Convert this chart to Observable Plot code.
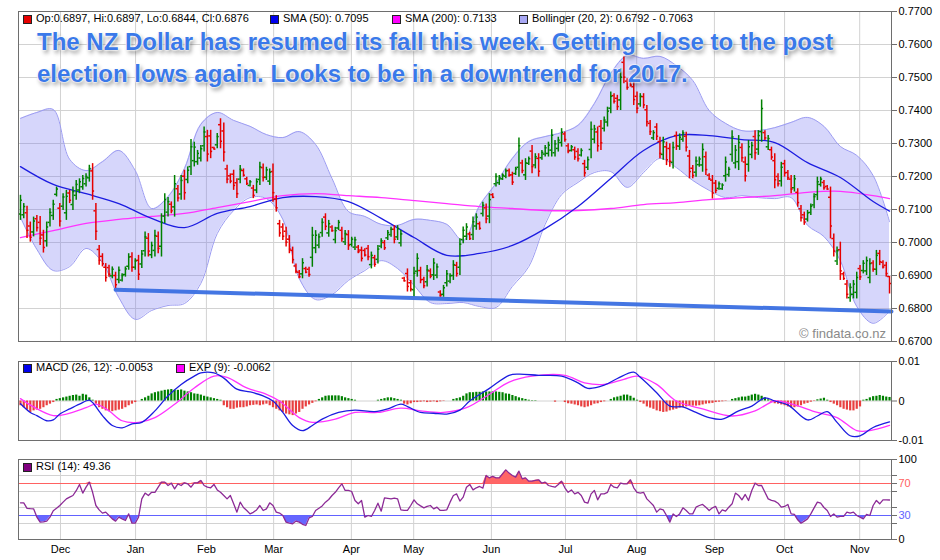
<!DOCTYPE html>
<html><head><meta charset="utf-8">
<script src="https://cdn.jsdelivr.net/npm/d3@7"></script>
<script src="https://cdn.jsdelivr.net/npm/@observablehq/plot@0.6"></script>
<style>
body{margin:0;background:#fff;}
#wrap{position:relative;width:940px;height:560px;overflow:hidden;font-family:"Liberation Sans",Arial,sans-serif;}
.panel{position:absolute;left:0;}
.leg{position:absolute;font-size:11px;color:#000;white-space:nowrap;line-height:13px;}
.sq{position:absolute;width:7px;height:7px;border:1px solid #222;}
.title{position:absolute;left:37px;top:26px;font:bold 24px "Liberation Sans",Arial,sans-serif;line-height:32px;color:#3a79e9;white-space:nowrap;
text-shadow:0 0 2px #fff,0 0 2px #fff,0 0 2px #fff,2px 3px 4px rgba(0,0,0,.45);}
.wm{position:absolute;right:54px;top:326px;font:13px "Liberation Sans",Arial,sans-serif;color:#8a8a8a;}
</style></head>
<body><div id="wrap"></div>
<script>
// ---------- DATA ----------
const monthNames = ["Dec","Jan","Feb","Mar","Apr","May","Jun","Jul","Aug","Sep","Oct","Nov"];
const monthIdx = [12.2,35.1,56.7,77.2,100.9,119.9,143.6,166.2,187.9,211.6,233,255.9];
const priceTicks = [.67,.68,.69,.70,.71,.72,.73,.74,.75,.76,.77];
const macdTicks = [-0.01,0,0.01];

const high = [
.7143,.7118,.7110,.7062,.7077,.7082,.7079,.7037,.7062,.7102,
.7128,.7168,.7118,.7148,.7158,.7158,.7168,.7188,.7193,.7203,
.7208,.7234,.7239,.7118,.6991,.6966,.6936,.6931,.6926,.6910,
.6926,.6905,.6926,.6966,.6969,.6951,.6961,.6976,.7032,.7027,
.7001,.7037,.7032,.7087,.7148,.7136,.7123,.7203,.7173,.7203,
.7219,.7229,.7312,.7304,.7279,.7294,.7350,.7340,.7340,.7289,
.7330,.7375,.7362,.7234,.7208,.7219,.7193,.7233,.7223,.7198,
.7188,.7173,.7193,.7243,.7238,.7228,.7223,.7238,.7142,.7067,
.7057,.7046,.7021,.6986,.6935,.6915,.6951,.6925,.6925,.7046,
.7036,.7026,.7072,.7087,.7067,.7051,.7046,.7067,.7046,.7036,
.7036,.7016,.7016,.6991,.6986,.6981,.6991,.6971,.6961,.6991,
.7011,.7006,.7036,.7046,.7051,.7051,.7036,.6895,.6920,.6885,
.6925,.6966,.6925,.6895,.6930,.6920,.6951,.6935,.6854,.6870,
.6915,.6905,.6945,.6940,.7011,.7047,.7057,.7031,.7077,.7087,
.7062,.7122,.7117,.7148,.7148,.7208,.7203,.7208,.7223,.7223,
.7213,.7228,.7317,.7249,.7254,.7259,.7294,.7269,.7269,.7279,
.7294,.7304,.7342,.7309,.7319,.7345,.7335,.7299,.7294,.7289,
.7284,.7284,.7249,.7259,.7365,.7355,.7350,.7370,.7380,.7410,
.7456,.7451,.7446,.7526,.7562,.7496,.7496,.7486,.7456,.7451,
.7451,.7415,.7370,.7339,.7360,.7319,.7319,.7304,.7299,.7304,
.7335,.7329,.7339,.7334,.7279,.7233,.7259,.7259,.7299,.7274,
.7208,.7203,.7188,.7183,.7178,.7259,.7228,.7339,.7294,.7324,
.7299,.7259,.7309,.7304,.7339,.7339,.7432,.7339,.7324,.7289,
.7269,.7208,.7243,.7249,.7218,.7203,.7203,.7163,.7112,.7092,
.7097,.7117,.7148,.7198,.7198,.7188,.7173,.7168,.7026,.6986,
.7001,.6910,.6885,.6875,.6885,.6910,.6930,.6945,.6956,.6951,
.6945,.6976,.6976,.6945,.6940,.6897];
const low = [
.7067,.7072,.7012,.7001,.7017,.7032,.6991,.6968,.6986,.7047,
.7067,.7138,.7047,.7097,.7067,.7118,.7097,.7128,.7148,.7158,
.7168,.7183,.7128,.7006,.6931,.6926,.6880,.6895,.6890,.6860,
.6875,.6880,.6895,.6916,.6910,.6916,.6885,.6921,.6956,.6956,
.6951,.6956,.6966,.6956,.7057,.7077,.7087,.7077,.7123,.7128,
.7128,.7178,.7203,.7229,.7234,.7244,.7274,.7244,.7254,.7281,
.7284,.7284,.7244,.7178,.7178,.7158,.7133,.7178,.7198,.7173,
.7168,.7133,.7148,.7173,.7183,.7188,.7173,.7122,.7092,.7016,
.7006,.6986,.6966,.6935,.6905,.6890,.6890,.6905,.6895,.6925,
.6966,.6981,.7016,.7036,.7016,.7031,.6996,.7036,.7001,.6991,
.6976,.6986,.6976,.6966,.6941,.6956,.6945,.6920,.6925,.6935,
.6981,.6976,.7006,.7016,.6996,.7006,.6986,.6880,.6850,.6850,
.6834,.6895,.6875,.6860,.6865,.6890,.6885,.6890,.6834,.6834,
.6865,.6875,.6885,.6895,.6900,.6996,.7006,.7006,.7006,.7037,
.7037,.7077,.7057,.7057,.7133,.7168,.7173,.7188,.7193,.7198,
.7173,.7203,.7198,.7208,.7188,.7233,.7208,.7223,.7198,.7249,
.7259,.7259,.7259,.7259,.7274,.7289,.7304,.7269,.7274,.7249,
.7244,.7259,.7198,.7218,.7254,.7299,.7274,.7279,.7335,.7350,
.7390,.7420,.7400,.7400,.7481,.7461,.7471,.7415,.7390,.7410,
.7405,.7350,.7324,.7309,.7309,.7254,.7249,.7233,.7228,.7223,
.7279,.7279,.7304,.7274,.7193,.7193,.7198,.7228,.7213,.7203,
.7188,.7132,.7148,.7158,.7158,.7183,.7198,.7243,.7223,.7218,
.7243,.7183,.7213,.7254,.7249,.7264,.7304,.7309,.7279,.7249,
.7163,.7168,.7168,.7198,.7188,.7148,.7153,.7107,.7062,.7052,
.7062,.7082,.7102,.7127,.7168,.7158,.7158,.7011,.6956,.6930,
.6885,.6885,.6829,.6819,.6829,.6829,.6885,.6905,.6900,.6875,
.6910,.6900,.6930,.6920,.6895,.6844];
const open = [
.7086,.7084,.7090,.7050,.7032,.7072,.7061,.7023,.7005,.7061,
.7082,.7146,.7104,.7110,.7090,.7150,.7115,.7143,.7159,.7169,
.7178,.7196,.7217,.7096,.6979,.6958,.6925,.6924,.6899,.6900,
.6888,.6886,.6903,.6928,.6957,.6925,.6946,.6935,.6975,.7013,
.6963,.6976,.7019,.6989,.7080,.7092,.7116,.7108,.7163,.7147,
.7201,.7191,.7230,.7248,.7245,.7256,.7293,.7321,.7323,.7288,
.7296,.7357,.7338,.7223,.7202,.7207,.7181,.7192,.7218,.7193,
.7173,.7165,.7159,.7191,.7227,.7198,.7186,.7215,.7132,.7057,
.7047,.7034,.7010,.6976,.6929,.6910,.6905,.6921,.6919,.6955,
.6984,.6992,.7030,.7077,.7029,.7047,.7009,.7044,.7037,.7002,
.7024,.6994,.6986,.6986,.6977,.6976,.6982,.6933,.6954,.6949,
.6989,.7000,.7014,.7024,.7040,.7017,.6999,.6892,.6906,.6878,
.6857,.6913,.6915,.6888,.6881,.6914,.6902,.6901,.6850,.6843,
.6878,.6883,.6900,.6931,.6925,.7009,.7019,.7026,.7024,.7050,
.7057,.7088,.7105,.7080,.7145,.7178,.7181,.7193,.7201,.7218,
.7205,.7209,.7228,.7241,.7205,.7240,.7277,.7235,.7255,.7257,
.7268,.7270,.7280,.7272,.7285,.7303,.7329,.7293,.7279,.7281,
.7276,.7265,.7239,.7228,.7282,.7313,.7335,.7352,.7346,.7365,
.7407,.7445,.7437,.7432,.7546,.7489,.7491,.7472,.7443,.7420,
.7442,.7402,.7361,.7317,.7350,.7306,.7267,.7290,.7285,.7243,
.7324,.7292,.7313,.7322,.7262,.7225,.7213,.7236,.7235,.7260,
.7204,.7189,.7180,.7164,.7163,.7202,.7206,.7267,.7241,.7245,
.7288,.7244,.7237,.7267,.7321,.7283,.7336,.7333,.7290,.7281,
.7248,.7200,.7187,.7239,.7212,.7192,.7166,.7152,.7102,.7084,
.7071,.7091,.7114,.7145,.7176,.7182,.7170,.7137,.7012,.6944,
.6978,.6905,.6874,.6833,.6843,.6849,.6921,.6915,.6914,.6894,
.6938,.6919,.6967,.6940,.6931,.6897];
const close = [
.7128,.7109,.7037,.7016,.7065,.7045,.7013,.6985,.7047,.7091,
.7116,.7162,.7065,.7138,.7140,.7128,.7154,.7176,.7184,.7194,
.7200,.7224,.7156,.7034,.6946,.6936,.6894,.6904,.6919,.6872,
.6916,.6900,.6920,.6956,.6925,.6944,.6904,.6965,.7017,.6974,
.6991,.7021,.6982,.7061,.7130,.7124,.7096,.7178,.7135,.7188,
.7151,.7219,.7290,.7289,.7270,.7284,.7335,.7268,.7276,.7283,
.7321,.7307,.7274,.7192,.7186,.7173,.7148,.7222,.7204,.7179,
.7184,.7143,.7184,.7229,.7197,.7220,.7213,.7151,.7105,.7029,
.7019,.7001,.6980,.6948,.6913,.6896,.6939,.6910,.6903,.7022,
.7022,.7017,.7061,.7049,.7057,.7036,.7036,.7061,.7012,.7027,
.6991,.7010,.7008,.6972,.6952,.6962,.6957,.6961,.6934,.6980,
.7005,.6984,.7030,.7040,.7010,.7042,.7026,.6884,.6867,.6859,
.6907,.6952,.6887,.6869,.6917,.6898,.6938,.6926,.6839,.6863,
.6905,.6899,.6933,.6906,.6995,.7037,.7047,.7012,.7063,.7077,
.7043,.7113,.7072,.7130,.7137,.7200,.7197,.7204,.7217,.7204,
.7183,.7223,.7293,.7218,.7241,.7254,.7230,.7260,.7216,.7273,
.7287,.7295,.7325,.7299,.7310,.7334,.7312,.7277,.7290,.7259,
.7254,.7279,.7211,.7251,.7343,.7344,.7293,.7302,.7371,.7398,
.7443,.7428,.7412,.7501,.7501,.7470,.7477,.7433,.7407,.7443,
.7417,.7366,.7336,.7333,.7322,.7270,.7305,.7251,.7246,.7288,
.7293,.7319,.7332,.7289,.7215,.7203,.7247,.7253,.7282,.7221,
.7193,.7150,.7158,.7178,.7174,.7244,.7222,.7320,.7280,.7303,
.7257,.7202,.7290,.7294,.7272,.7324,.7406,.7317,.7315,.7259,
.7190,.7178,.7228,.7211,.7196,.7162,.7193,.7121,.7075,.7062,
.7090,.7110,.7139,.7184,.7192,.7166,.7162,.7050,.6974,.6975,
.6914,.6891,.6843,.6864,.6874,.6894,.6896,.6937,.6945,.6936,
.6919,.6961,.6942,.6926,.6906,.6876];

// moving averages (bar index -> value)
const smaIdx = [0,10,20,30,40,50,60,70,80,90,100,110,120,130,140,150,160,170,180,190,200,210,220,230,240,250,260,265];
const sma50 = [.7230,.7176,.7148,.7118,.7073,.7045,.7088,.7109,.7136,.7139,.7124,.7073,.7015,.6961,.6967,.6991,.7042,.7109,.7194,.7279,.7324,.7324,.7312,.7303,.7242,.7197,.7124,.7095];
const sma200 = [.7015,.7036,.7058,.7070,.7079,.7088,.7106,.7124,.7142,.7148,.7142,.7136,.7127,.7118,.7109,.7103,.7097,.7097,.7103,.7115,.7121,.7130,.7136,.7142,.7152,.7155,.7142,.7133];

// Bollinger (20, 2)
const bbIdx = [0,5,10,15,20,25,30,35,40,45,50,55,60,65,70,75,80,85,90,95,100,105,110,115,120,125,130,135,140,145,150,155,160,165,170,175,180,185,190,195,200,205,210,215,220,225,230,235,240,245,250,255,260,265];
const bbUpper = [.7376,.7394,.7403,.7252,.7218,.7245,.7279,.7218,.7103,.7139,.7224,.7358,.7394,.7370,.7352,.7327,.7318,.7336,.7297,.7194,.7094,.7079,.7055,.7052,.7070,.7067,.7055,.7006,.7112,.7179,.7255,.7306,.7321,.7333,.7355,.7421,.7512,.7567,.7558,.7564,.7536,.7491,.7400,.7361,.7339,.7339,.7348,.7364,.7379,.7352,.7291,.7264,.7203,.7063];
const bbLower = [.7076,.6979,.6915,.6927,.6982,.6939,.6833,.6767,.6794,.6809,.6815,.6876,.7027,.7097,.7136,.7133,.7070,.6891,.6827,.6842,.6885,.6915,.6945,.6921,.6870,.6818,.6815,.6818,.6806,.6803,.6867,.6927,.7055,.7145,.7182,.7212,.7215,.7167,.7212,.7255,.7227,.7188,.7158,.7136,.7142,.7136,.7133,.7136,.7052,.7018,.6945,.6806,.6755,.6792];

// hand-drawn support line
const trendIdx = [29, 265.6];
const trendVal = [.6857, .6791];

// MACD (26,12) and EXP (9)
const macdIdx = [0,3,5,8,10,12,15,18,21,22,25,28,31,34,37,41,45,49,53,55,59,62,66,70,74,77,80,83,86,89,92,97,102,108,112,116,118,122,126,130,134,137,143,149,152,158,165,170,173,178,182,187,189,194,198,202,206,210,214,219,223,227,230,234,240,243,246,249,253,256,260,265];
const macdVal = [-.0007,-.0029,-.0037,-.0050,-.0048,-.0033,-.0020,-.0008,.0002,-.0004,-.0037,-.0062,-.0068,-.0058,-.0054,-.0025,.0013,.0042,.0063,.0071,.0071,.0058,.0030,.0023,.0013,0,-.0029,-.0062,-.0075,-.0062,-.0046,-.0029,-.0023,-.0027,-.0020,-.0008,-.0014,-.0029,-.0031,-.0033,-.0023,0,.0032,.0065,.0068,.0065,.0063,.0046,.0032,.0040,.0057,.0073,.0060,.0021,-.0013,-.0015,-.0029,-.0042,-.0046,-.0025,-.0013,.0008,0,-.0010,-.0048,-.0038,-.0027,-.0054,-.0088,-.0088,-.0067,-.0053];
const sigIdx = [0,4,10,14,20,23,27,31,36,41,47,53,59,63,69,75,79,85,89,96,102,109,116,122,129,136,143,149,156,166,172,178,184,188,194,200,208,217,224,230,235,243,249,255,259,265];
const sigVal = [.0006,-.0015,-.0037,-.0033,-.0017,-.0008,-.0025,-.0050,-.0054,-.0042,-.0008,.0033,.0063,.0060,.0033,.0017,0,-.0042,-.0054,-.0046,-.0029,-.0029,-.0018,-.0025,-.0029,-.0017,.0017,.0048,.0063,.0065,.0046,.0042,.0055,.0063,.0042,0,-.0020,-.0038,-.0025,0,-.0007,-.0029,-.0042,-.0075,-.0075,-.0062];
// histogram, one per bar, in pips (0.0001)
const histPips = [
-12,-17,-23,-29,-25,-23,-21,-17,-12,-8,-4,
4,6,8,10,12,14,15,12,17,15,8,2,
-8,-17,-21,-25,-27,-27,-25,-23,-21,-17,-12,-8,-4,
0,
4,8,12,18,21,23,25,27,28,29,27,27,28,25,23,21,18,17,15,12,10,8,6,4,2,
-12,-17,-21,-21,-18,-17,-17,-15,-12,-11,-10,-12,-10,-8,-12,-17,-21,-25,-29,-33,-35,-37,-33,-29,-21,-15,-10,-6,-2,
4,8,12,13,13,13,13,11,8,6,4,2,
0,0,0,0,0,0,
2,4,6,8,8,6,4,2,
-8,-10,-7,-4,-4,-3,-2,-4,-3,-2,-4,-2,-1,0,
0,
4,6,8,12,18,
21,21,22,22,23,23,23,23,23,22,21,18,17,14,11,8,6,4,2,
1,1,0,0,0,0,0,-3,0,0,
-4,-7,-8,-10,-12,-15,-17,-15,-12,-8,-7,-4,-2,0,
4,8,10,12,15,15,12,7,2,
-4,-8,-15,-18,-21,-25,-27,-29,-28,-25,-23,-21,-18,-17,-15,-13,-13,-13,-12,-10,-8,-7,-6,-4,-3,-2,-1,0,
4,6,8,10,10,12,15,17,15,12,8,3,
-4,-7,-8,-10,-12,-15,-17,-17,-15,-12,-8,-6,-3,-1,
3,5,7,2,
-4,-8,-12,-17,-21,-23,-25,-25,-21,-15,
2,4,8,11,12,14,12,10,9];

// RSI (14), one per bar
const rsi = [
45.8,45.8,39,38.5,38.3,28,21.7,22,23,28,
36,39,42.5,46.7,50.8,53,55,61,68.8,58,
65.4,71.7,59,42.5,37,33,34.2,30,25.8,23,
28,25.8,23.8,32,20.4,20.4,28,50.8,58,55,
59,59,65.4,71.7,71.7,67.5,70.4,63.3,69.6,67.5,
70.8,69.6,65.4,70.8,70.8,73.8,67.5,65.4,64.6,68.8,
62,59,55,50.8,55,44.6,34.2,46.7,40,36.3,
32,34,37,42.5,36.3,38.3,45.8,42.5,34.2,33,
30,21.7,20.5,19.6,23,21.7,19,17.5,27,28.8,
36.3,39,42,46.7,50,55,59,64.6,69.6,61.3,
61.3,60,48.8,44.6,48.8,28,30,28.8,36.3,45.4,
35.4,52,51.5,50.8,51.7,50.8,37.1,36.5,36.3,42.5,
49.6,44.6,42,39.6,41.3,42.5,38.3,40.4,36.3,36.5,
37.1,46.7,55,57,48,53,65.4,68.8,62,64.6,
66.3,64.2,80,77,78.8,77,77,82,87,83,
80,77.9,85.4,75.8,77,72.9,72.9,74,74.6,70.4,
71.7,67.5,66.3,65.4,68.8,72.9,64.6,59,62,57,
59,55,46.7,45.4,57,61.3,49.6,57,57,59,
68.8,65.4,64.6,70.4,69.6,69.6,74.6,64.6,59,58,
59,50.8,46.7,42.5,34.2,38.3,37.1,30,21.7,32,
28.8,32,39.6,36.3,32,32,40.4,42.5,43.8,40.4,
36.3,39.6,41.3,32,37.1,35.4,40.4,44.6,58,55,
49.6,56.3,48.8,61.3,70.4,67.5,67.5,59,50.8,49,
48,45.4,40.4,41.3,43.8,32,31.3,24.6,20.4,23,
25.8,32,39.6,46.7,45.4,40,36.3,28.8,32,28,
28.8,28.8,34.2,33,34.2,30,28,25.8,31.3,30,
42.5,48.8,44.6,49.6,49.6,49.36];

// ---------- BUILD ----------
const W = 940, ML = 18, MR = 49;
const xDom = [-0.6, 265.6];
const grid = "#d2d2d2", frameCol = "#6e6e6e";
const style = {fontFamily: '"Liberation Sans",Arial,sans-serif', fontSize: "11px", background: "transparent", overflow: "visible"};

const bars = close.map((c, i) => ({i, o: open[i], h: high[i], l: low[i], c}));
const barCol = d => d.c >= d.o ? "#008000" : "#e60000";
const bb = bbIdx.map((i, k) => ({i, hi: bbUpper[k], lo: bbLower[k]}));
const sma = smaIdx.map((i, k) => ({i, s50: sma50[k], s200: sma200[k]}));
const trend = trendIdx.map((i, k) => ({i, v: trendVal[k]}));
const macdRows = macdIdx.map((i, k) => ({i, v: macdVal[k]}));
const sigRows = sigIdx.map((i, k) => ({i, v: sigVal[k]}));
const hist = histPips.map((p, i) => ({i, v: p / 10000}));
const rsiRows = rsi.map((v, i) => ({i, v}));

const mainPlot = Plot.plot({
  width: W, height: 350, marginLeft: ML, marginRight: MR, marginTop: 11, marginBottom: 9,
  style,
  x: {domain: xDom, axis: null},
  y: {domain: [0.67, 0.77], axis: null},
  marks: [
    Plot.ruleY(priceTicks, {stroke: grid}),
    Plot.ruleX(monthIdx, {stroke: grid}),
    Plot.areaY(bb, {x: "i", y1: "lo", y2: "hi", fill: "rgb(118,118,242)", fillOpacity: 0.3, curve: "catmull-rom"}),
    Plot.line(bb, {x: "i", y: "hi", stroke: "#9c9cf2", strokeWidth: 1, curve: "catmull-rom"}),
    Plot.line(bb, {x: "i", y: "lo", stroke: "#9c9cf2", strokeWidth: 1, curve: "catmull-rom"}),
    Plot.line(sma, {x: "i", y: "s200", stroke: "#ff33ff", strokeWidth: 1.3, curve: "catmull-rom"}),
    Plot.line(sma, {x: "i", y: "s50", stroke: "#1c1ce0", strokeWidth: 1.3, curve: "catmull-rom"}),
    Plot.ruleX(bars, {x: "i", y1: "l", y2: "h", stroke: barCol, strokeWidth: 1.5}),
    Plot.ruleY(bars, {y: "o", x1: d => d.i - 0.6, x2: "i", stroke: barCol, strokeWidth: 1.5}),
    Plot.ruleY(bars, {y: "c", x1: "i", x2: d => d.i + 0.6, stroke: barCol, strokeWidth: 1.5}),
    Plot.line(trend, {x: "i", y: "v", stroke: "#3a6fe2", strokeWidth: 4, strokeOpacity: 0.95}),
    Plot.frame({stroke: frameCol}),
    Plot.axisY(priceTicks, {anchor: "right", label: null, tickSize: 5, tickPadding: 2, tickFormat: d => d.toFixed(4), stroke: frameCol, fill: "#000"})
  ]
});

const macdPlot = Plot.plot({
  width: W, height: 95, marginLeft: ML, marginRight: MR, marginTop: 11, marginBottom: 5,
  style,
  x: {domain: xDom, axis: null},
  y: {domain: [-0.01, 0.01], axis: null},
  marks: [
    Plot.ruleX(monthIdx, {stroke: grid}),
    Plot.ruleY([0], {stroke: grid}),
    Plot.ruleX(hist, {x: "i", y1: 0, y2: "v", stroke: d => d.v >= 0 ? "#008000" : "#e84040", strokeWidth: 2.2}),
    Plot.line(sigRows, {x: "i", y: "v", stroke: "#ff33ff", strokeWidth: 1.3, curve: "catmull-rom"}),
    Plot.line(macdRows, {x: "i", y: "v", stroke: "#1c1ce0", strokeWidth: 1.3, curve: "catmull-rom"}),
    Plot.frame({stroke: frameCol}),
    Plot.axisY(macdTicks, {anchor: "right", label: null, tickSize: 5, tickPadding: 2, tickFormat: d => d === 0 ? "0" : String(d), stroke: frameCol, fill: "#000"})
  ]
});

const rsiPlot = Plot.plot({
  width: W, height: 110, marginLeft: ML, marginRight: MR, marginTop: 9, marginBottom: 21,
  style,
  x: {domain: xDom, axis: null},
  y: {domain: [0, 100], axis: null},
  marks: [
    Plot.ruleX(monthIdx, {stroke: grid}),
    Plot.ruleY([20, 40, 60, 80], {stroke: grid}),
    Plot.areaY(rsiRows, {x: "i", y1: 70, y2: d => Math.max(d.v, 70), fill: "#ff6666"}),
    Plot.areaY(rsiRows, {x: "i", y1: 30, y2: d => Math.min(d.v, 30), fill: "#6666ff"}),
    Plot.ruleY([70], {stroke: "#ff6262"}),
    Plot.ruleY([30], {stroke: "#6262ff"}),
    Plot.line(rsiRows, {x: "i", y: "v", stroke: "#8c2a96", strokeWidth: 1.3}),
    Plot.frame({stroke: frameCol}),
    Plot.axisY([0, 20, 30, 40, 60, 70, 80, 100], {anchor: "right", label: null, tickSize: 5, tickFormat: () => "", stroke: frameCol}),
    Plot.axisY([0, 100], {anchor: "right", label: null, tickSize: 5, tickPadding: 2, stroke: frameCol, fill: "#000"}),
    Plot.axisY([70], {anchor: "right", label: null, tickSize: 0, tickPadding: 7, fill: "#ff6262"}),
    Plot.axisY([30], {anchor: "right", label: null, tickSize: 0, tickPadding: 7, fill: "#6262ff"}),
    Plot.axisX(monthIdx, {anchor: "bottom", label: null, tickSize: 0, tickPadding: 6, tickFormat: d => monthNames[monthIdx.indexOf(d)], fill: "#000"})
  ]
});

const wrap = document.getElementById("wrap");
[[mainPlot, 0], [macdPlot, 350], [rsiPlot, 450]].forEach(([svg, top]) => {
  svg.classList.add("panel");
  svg.style.top = top + "px";
  wrap.appendChild(svg);
});

// legends & annotations
const n = close.length - 1;
const f4 = v => v.toFixed(4);
const legends = [
  {x: 23, y: 12, col: "#e60000", txt: `Op:${f4(open[n])}, Hi:${f4(high[n])}, Lo:${f4(low[n])}, Cl:${f4(close[n])}`},
  {x: 270, y: 12, col: "#0000ee", txt: `SMA (50): ${f4(sma50[sma50.length - 1])}`},
  {x: 392, y: 12, col: "#ff00ff", txt: `SMA (200): ${f4(sma200[sma200.length - 1])}`},
  {x: 519, y: 12, col: "#a8a8f4", txt: `Bollinger (20, 2): ${f4(bbLower[bbLower.length - 1])} - ${f4(bbUpper[bbUpper.length - 1])}`},
  {x: 23, y: 361, col: "#0000ee", txt: `MACD (26, 12): ${f4(macdVal[macdVal.length - 1])}`},
  {x: 176, y: 361, col: "#ff00ff", txt: `EXP (9): ${f4(sigVal[sigVal.length - 1])}`},
  {x: 23, y: 460, col: "#800080", txt: `RSI (14): ${rsi[n].toFixed(2)}`}
];
legends.forEach(l => {
  const s = document.createElement("div");
  s.className = "sq"; s.style.left = l.x + "px"; s.style.top = (l.y + 3) + "px"; s.style.background = l.col;
  wrap.appendChild(s);
  const t = document.createElement("div");
  t.className = "leg"; t.style.left = (l.x + 13) + "px"; t.style.top = l.y + "px"; t.textContent = l.txt;
  wrap.appendChild(t);
});
const title = document.createElement("div");
title.className = "title";
title.innerHTML = "The NZ Dollar has resumed its fall this week. Getting close to the post<br>election lows again. Looks to be in a downtrend for 2017.";
wrap.appendChild(title);
const wm = document.createElement("div");
wm.className = "wm"; wm.textContent = "© findata.co.nz";
wrap.appendChild(wm);
</script>
</body></html>
